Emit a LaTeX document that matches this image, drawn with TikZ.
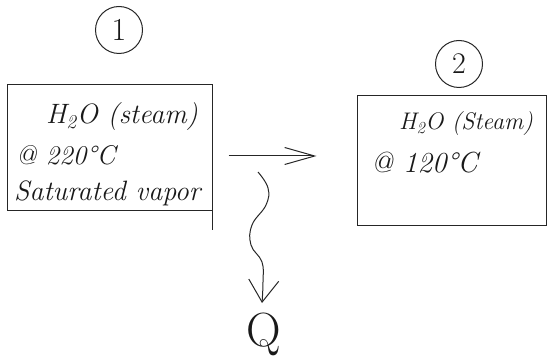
\documentclass[tikz,border=0pt]{standalone}
\usetikzlibrary{arrows.meta}
\begin{document}
\begin{tikzpicture}[x=1pt,y=-1pt,
  pen/.style={line width=1pt, black!85},
  statebox/.style={pen, draw, rectangle, inner sep=0pt},
  tag/.style={pen, draw, circle, inner sep=0pt, minimum size=47pt},
  hand/.style={font=\fontsize{#1}{#1}\selectfont\itshape, inner sep=0pt, text=black!90},
  mark/.style={font=\fontsize{#1}{#1}\selectfont, inner sep=0pt, text=black!90},
  flow/.style={pen, -{Straight Barb[length=30pt,width=17pt]}},
  heat/.style={pen, -{Straight Barb[length=22pt,width=30pt]}}]
\useasboundingbox (0,0) rectangle (549,358);

% state 1
\node[tag, mark=32] (s1) at (119,30) {1};
\node[statebox, minimum width=205pt, minimum height=126pt] (b1) at (109.5,148) {};
\draw[pen] (b1.south east) -- ++(0,19);
\node[hand=28] (t1a) at (122,117) {H\textsubscript{2}O (steam)};
\node[hand=27, anchor=west] (t1b) at (16,155) {@ 220\textdegree C};
\node[hand=28, anchor=west] (t1c) at (14,193) {Saturated vapor};

% state 2
\node[tag, mark=30] (s2) at (459,64) {2};
\node[statebox, minimum width=189pt, minimum height=130pt] (b2) at (451.5,161) {};
\node[hand=24] (t2a) at (466,124) {H\textsubscript{2}O (Steam)};
\node[hand=29, anchor=west] (t2b) at (371,163) {@ 120\textdegree C};

% process arrow
\coordinate (fa) at (228,156);
\draw[flow, shorten <=16pt, shorten >=40pt] (b1.east |- fa) -- (b2.west |- fa);

% heat leaving
\node[mark=48] (q) at (264,334) {Q};
\coordinate (hs) at (258,172);
\coordinate (ht) at (262,303);
\draw[heat] plot[smooth, tension=0.7] coordinates {(hs) (268,188) (266,205) (252,225) (251,245) (262,262) (263,282) (ht)};
\end{tikzpicture}
\end{document}
